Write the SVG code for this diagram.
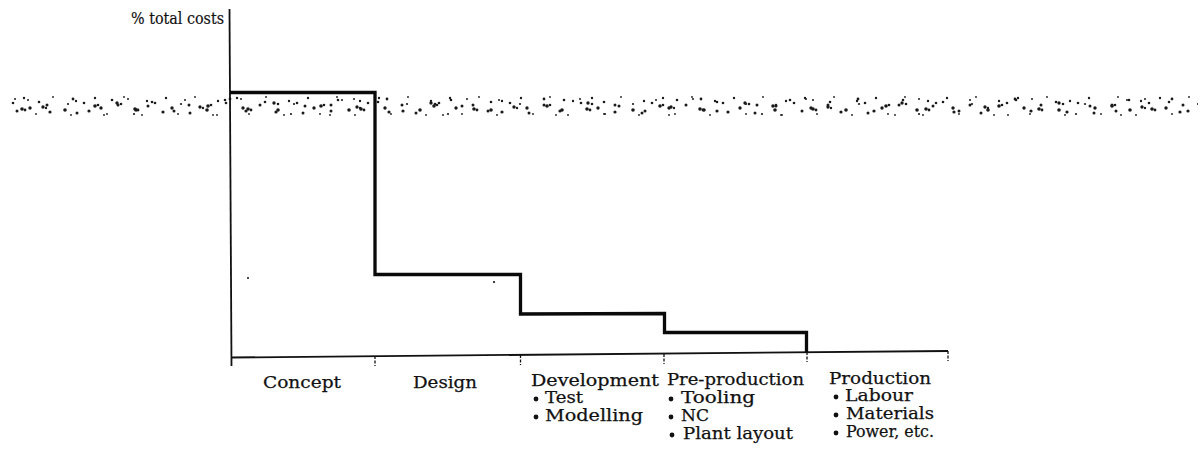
<svg xmlns="http://www.w3.org/2000/svg" width="1203" height="456" viewBox="0 0 1203 456">
  <defs>
    <style>
      .axis { stroke: #111; stroke-width: 1.8; fill: none; }
      .tick { stroke: #111; stroke-width: 1.3; stroke-dasharray: 3 1.5; fill: none; }
      .step { stroke: #0a0a0a; stroke-width: 3.3; fill: none; stroke-linejoin: miter; }
      .lbl { font-family: "DejaVu Serif", "Liberation Serif", serif; font-size: 16.5px; fill: #111; stroke: #111; stroke-width: 0.25; }
      .ylbl { font-family: "DejaVu Serif", "Liberation Serif", serif; font-size: 16.5px; fill: #111; stroke: #111; stroke-width: 0.2; }
      .dot { fill: #111; }
      .sp { fill: #1a1a1a; }
    </style>
    <!-- three speckle tiles of different widths, overlaid to break up repetition -->
    <pattern id="speckA" x="10" y="94" width="71" height="24" patternUnits="userSpaceOnUse">
      <circle class="sp" cx="3" cy="9" r="1.3"/>
      <circle class="sp" cx="14" cy="4" r="1.2"/>
      <circle class="sp" cx="20" cy="14" r="1.7"/>
      <circle class="sp" cx="26" cy="20" r="0.9"/>
      <circle class="sp" cx="37" cy="11" r="1.5"/>
      <circle class="sp" cx="43" cy="3" r="0.9"/>
      <circle class="sp" cx="55" cy="16" r="1.8"/>
      <circle class="sp" cx="61" cy="21" r="0.9"/>
      <circle class="sp" cx="66" cy="7" r="1.2"/>
    </pattern>
    <pattern id="speckB" x="10" y="94" width="113" height="24" patternUnits="userSpaceOnUse">
      <circle class="sp" cx="5" cy="5" r="1.0"/>
      <circle class="sp" cx="12" cy="15" r="1.8"/>
      <circle class="sp" cx="15" cy="16" r="1.4"/>
      <circle class="sp" cx="29" cy="8" r="1.3"/>
      <circle class="sp" cx="40" cy="18" r="1.6"/>
      <circle class="sp" cx="58" cy="10" r="1.1"/>
      <circle class="sp" cx="67" cy="19" r="1.5"/>
      <circle class="sp" cx="85" cy="12" r="1.8"/>
      <circle class="sp" cx="88" cy="11" r="1.3"/>
      <circle class="sp" cx="94" cy="21" r="0.9"/>
      <circle class="sp" cx="102" cy="6" r="1.3"/>
    </pattern>
    <pattern id="speckC" x="10" y="94" width="157" height="24" patternUnits="userSpaceOnUse">
      <circle class="sp" cx="7" cy="17" r="1.5"/>
      <circle class="sp" cx="18" cy="6" r="1.0"/>
      <circle class="sp" cx="33" cy="13" r="1.7"/>
      <circle class="sp" cx="36" cy="14" r="1.2"/>
      <circle class="sp" cx="63" cy="5" r="1.4"/>
      <circle class="sp" cx="79" cy="17" r="1.6"/>
      <circle class="sp" cx="107" cy="9" r="1.7"/>
      <circle class="sp" cx="111" cy="10" r="1.3"/>
      <circle class="sp" cx="124" cy="20" r="1.1"/>
      <circle class="sp" cx="138" cy="12" r="1.5"/>
    </pattern>
  </defs>

  <rect width="1203" height="456" fill="#fff"/>

  <!-- speckled horizontal band -->
  <g id="speckle-band">
    <rect x="10" y="94" width="1188" height="24" fill="url(#speckA)"/>
    <rect x="10" y="94" width="1188" height="24" fill="url(#speckB)"/>
    <rect x="10" y="94" width="1188" height="24" fill="url(#speckC)"/>
  </g>

  <!-- axes and phase ticks -->
  <g id="axes">
    <line class="axis" x1="229.5" y1="9" x2="231.5" y2="366"/>
    <line class="axis" x1="231" y1="357.5" x2="948" y2="351"/>
    <line class="tick" x1="375" y1="356" x2="375" y2="366"/>
    <line class="tick" x1="520.5" y1="355" x2="520.5" y2="365"/>
    <line class="tick" x1="664" y1="354" x2="664" y2="364"/>
    <line class="tick" x1="807" y1="352" x2="807" y2="362"/>
    <line class="tick" x1="948" y1="351" x2="948" y2="361"/>
  </g>

  <g id="y-label">
    <text class="ylbl" x="131" y="24" textLength="93" lengthAdjust="spacingAndGlyphs">% total costs</text>
  </g>

  <!-- cost step line -->
  <g id="connectors">
    <polyline class="step" points="230,92.5 375,92.5 375,274.5 520.5,274.5 520.5,314 664.5,313.5 664.5,332.5 806.5,332.5 806.5,352"/>
  </g>

  <!-- stray marks -->
  <g id="marks">
    <circle class="dot" cx="248" cy="278" r="1"/>
    <circle class="dot" cx="494" cy="282" r="1.1"/>
  </g>

  <g id="phase-concept">
    <text class="lbl" x="263" y="388" textLength="78" lengthAdjust="spacingAndGlyphs">Concept</text>
  </g>

  <g id="phase-design">
    <text class="lbl" x="413" y="388" textLength="64" lengthAdjust="spacingAndGlyphs">Design</text>
  </g>

  <g id="phase-development">
    <text class="lbl" x="531" y="386" textLength="128" lengthAdjust="spacingAndGlyphs">Development</text>
    <circle class="dot" cx="536" cy="399" r="2.4"/>
    <text class="lbl" x="545" y="403" textLength="38" lengthAdjust="spacingAndGlyphs">Test</text>
    <circle class="dot" cx="536" cy="417" r="2.4"/>
    <text class="lbl" x="545" y="421" textLength="98" lengthAdjust="spacingAndGlyphs">Modelling</text>
  </g>

  <g id="phase-preproduction">
    <text class="lbl" x="667" y="385" textLength="137" lengthAdjust="spacingAndGlyphs">Pre-production</text>
    <circle class="dot" cx="671" cy="399" r="2.4"/>
    <text class="lbl" x="681" y="403" textLength="74" lengthAdjust="spacingAndGlyphs">Tooling</text>
    <circle class="dot" cx="671" cy="417" r="2.4"/>
    <text class="lbl" x="681" y="421" textLength="28" lengthAdjust="spacingAndGlyphs">NC</text>
    <circle class="dot" cx="672" cy="435" r="2.4"/>
    <text class="lbl" x="683" y="439" textLength="110" lengthAdjust="spacingAndGlyphs">Plant layout</text>
  </g>

  <g id="phase-production">
    <text class="lbl" x="829" y="384" textLength="102" lengthAdjust="spacingAndGlyphs">Production</text>
    <circle class="dot" cx="836" cy="397" r="2.4"/>
    <text class="lbl" x="845" y="401" textLength="68" lengthAdjust="spacingAndGlyphs">Labour</text>
    <circle class="dot" cx="836" cy="415" r="2.4"/>
    <text class="lbl" x="846" y="419" textLength="88" lengthAdjust="spacingAndGlyphs">Materials</text>
    <circle class="dot" cx="836" cy="433" r="2.4"/>
    <text class="lbl" x="846" y="437" textLength="88" lengthAdjust="spacingAndGlyphs">Power, etc.</text>
  </g>
</svg>
